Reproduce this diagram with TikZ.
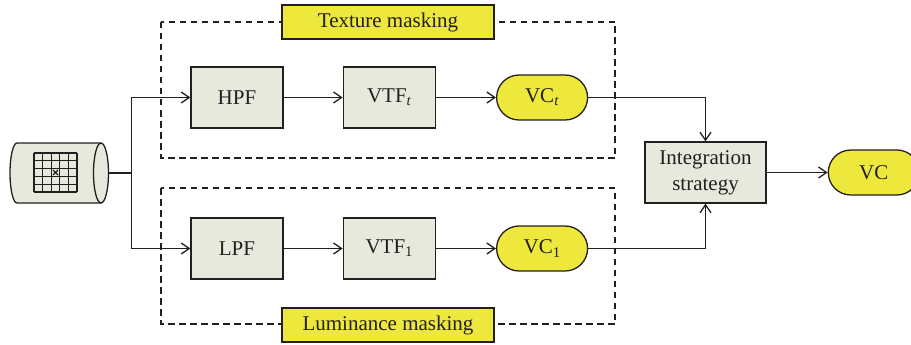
\documentclass[tikz,border=0pt]{standalone}
\usepackage{fontspec}
\setmainfont{Liberation Serif}
\usepackage{tikz}
\usetikzlibrary{arrows.meta,positioning}
\usetikzlibrary{shapes.misc}
\definecolor{boxgray}{RGB}{231,233,220}
\definecolor{vcyellow}{RGB}{238,232,60}
\definecolor{inkgray}{RGB}{35,31,32}

\begin{document}
\begin{tikzpicture}[x=1pt,y=-1pt,>={Straight Barb[length=8pt,width=11pt]},
	color=inkgray,line width=1.3pt,
	every node/.style={font=\fontsize{21}{26}\selectfont},
	filter/.style={draw,fill=boxgray,minimum width=92pt,minimum height=61pt,inner sep=0pt},
	capsule/.style={draw,fill=vcyellow,rounded rectangle,minimum width=91pt,minimum height=45pt,inner sep=0pt},
	maskbox/.style={draw,fill=vcyellow,minimum width=212pt,minimum height=34pt,inner sep=0pt}]
	\useasboundingbox (0,0) rectangle (911,345);

	% dashed frames
	\draw[dash pattern=on 6.5pt off 4.5pt] (161,22) rectangle (615,158);
	\draw[dash pattern=on 6.5pt off 4.5pt] (161,188) rectangle (615,324);
	\node[maskbox] (texmask) at (388,22) {Texture masking};
	\node[maskbox] (lummask) at (388,325) {Luminance masking};

	% image source (lying cylinder with a pixel grid)
	\draw[fill=boxgray] (17,143) -- (101,143)
		arc[start angle=90,end angle=-90,x radius=7.5pt,y radius=30pt] -- (17,203)
		arc[start angle=270,end angle=90,x radius=7pt,y radius=30pt] -- cycle;
	\draw (101,143) arc[start angle=90,end angle=270,x radius=7.5pt,y radius=30pt];
	\foreach \i in {0,...,5} {
		\draw (34+\i*8.6,153) -- (34+\i*8.6,192);
		\draw (34,153+\i*7.8) -- (77,153+\i*7.8);
	}
	\draw (53,170) -- (58,175) (53,175) -- (58,170);
	\coordinate (src) at (108.5,173);

	% texture branch
	\node[filter] (hpf) at (237,97.5) {HPF};
	\node[filter] (vtft) [right=59pt of hpf] {VTF\textsubscript{\textit{t}}};
	\node[capsule] (vct) [right=60pt of vtft] {VC\textsubscript{\textit{t}}};

	% luminance branch
	\node[filter] (lpf) at (237,248.5) {LPF};
	\node[filter] (vtfl) [right=59pt of lpf] {VTF\textsubscript{1}};
	\node[capsule] (vcl) [right=60pt of vtfl] {VC\textsubscript{1}};

	\node[filter,minimum width=121pt,align=center] (integ) at (705.5,172.5) {Integration\\strategy};
	\node[capsule] (vc) [right=61pt of integ] {VC};

	\draw (src) -- ++(23,0) coordinate (split);
	\draw[->] (split) |- (hpf);
	\draw[->] (split) |- (lpf);
	\path[->]
	(hpf) edge (vtft)
	(vtft) edge (vct)
	(lpf) edge (vtfl)
	(vtfl) edge (vcl)
	(integ) edge (vc)
	;
	\draw[->] (vct) -| (integ);
	\draw[->] (vcl) -| (integ);
\end{tikzpicture}
\end{document}
